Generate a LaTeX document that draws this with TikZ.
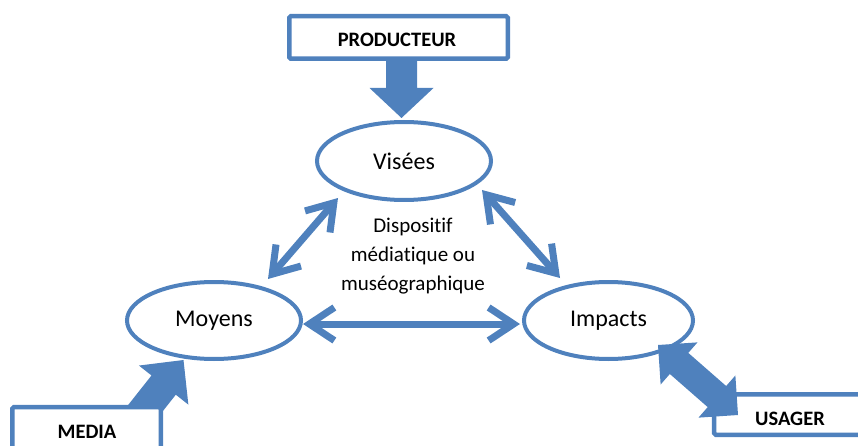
\documentclass[tikz,border=0pt]{standalone}
\usepackage{fontspec}
\setmainfont{Carlito}[Ligatures=NoCommon]
\usetikzlibrary{calc,arrows.meta,shapes.geometric}
\definecolor{acc}{RGB}{79,129,189}
\newcommand\blockarrow[5]{% #1 tail, #2 tip, #3 shaft half, #4 head half, #5 head length
  \coordinate (ba@c) at ($(#2)!#5!(#1)$);
  \fill[acc] ($(#1)!#3!90:(#2)$) -- ($(ba@c)!#3!90:(#2)$) -- ($(ba@c)!#4!90:(#2)$) -- (#2)
    -- ($(ba@c)!#4!-90:(#2)$) -- ($(ba@c)!#3!-90:(#2)$) -- ($(#1)!#3!-90:(#2)$) -- cycle;}
\newcommand\dblockarrow[5]{% #1 tip, #2 tip, #3 shaft half, #4 head half, #5 head length
  \coordinate (da@a) at ($(#1)!#5!(#2)$);
  \coordinate (da@b) at ($(#2)!#5!(#1)$);
  \fill[acc] (#1) -- ($(da@a)!#4!90:(#2)$) -- ($(da@a)!#3!90:(#2)$) -- ($(da@b)!#3!90:(#2)$)
    -- ($(da@b)!#4!90:(#2)$) -- (#2) -- ($(da@b)!#4!-90:(#2)$) -- ($(da@b)!#3!-90:(#2)$)
    -- ($(da@a)!#3!-90:(#2)$) -- ($(da@a)!#4!-90:(#2)$) -- cycle;}
\begin{document}
\begin{tikzpicture}[x=1pt,y=-1pt,
  ell/.style={ellipse, draw=acc, line width=4pt, inner sep=0pt, fill=white,
    font=\fontsize{24}{29}\selectfont},
  boxn/.style={draw=acc, line width=4.5pt, fill=white, rounded corners=1.5pt, inner sep=0pt},
  lbl/.style={inner sep=0pt, font=\fontsize{20.5}{24}\selectfont\bfseries},
  twoway/.style={draw=acc, line width=7pt, {Straight Barb[length=25pt,width=33pt]}-{Straight Barb[length=25pt,width=33pt]}}]
\useasboundingbox (0,0) rectangle (858,446);
\clip (0,0) rectangle (858,446);
% ellipses
\node[ell, minimum width=174pt, minimum height=78pt] (vis) at (404,161) {Visées};
\node[ell, minimum width=174pt, minimum height=77pt] (moy) at (214,320.5) {Moyens};
\node[ell, minimum width=169pt, minimum height=77pt] (imp) at (608.5,320.5) {Impacts};
% centre text
\node[align=center, inner sep=0pt, font=\fontsize{21}{29}\selectfont] (disp) at (413,256)
  {Dispositif\\médiatique ou\\muséographique};
% boxes
\node[boxn, minimum width=218.5pt, minimum height=42.5pt] (prod) at (398.5,37.5) {};
\node[lbl] (prodt) at (397,40) {PRODUCTEUR};
\node[boxn, minimum width=165.75pt, minimum height=40.5pt] (usa) at (797.1,414.5) {};
\node[lbl] (usat) at (790,418.5) {USAGER};
% connector end points
\coordinate (p1) at (401.5,59);
\coordinate (p2) at (401.5,118);
\coordinate (m1) at (140,415);
\coordinate (m2) at (183.5,360);
\coordinate (u1) at (658,345);
\coordinate (u2) at (738,415);
\coordinate (vm1) at (338,198);
\coordinate (vm2) at (268,279);
\coordinate (vi1) at (482,190);
\coordinate (vi2) at (560,278);
\coordinate (mi1) at (303,324);
\coordinate (mi2) at (520,324);
% block arrows
\blockarrow{p1}{p2}{15.5pt}{32pt}{30pt}
\blockarrow{m1}{m2}{15.5pt}{31.5pt}{32pt}
\dblockarrow{u1}{u2}{14pt}{28pt}{28pt}
% media box on top of its arrow
\node[boxn, minimum width=148.5pt, minimum height=62.75pt] (med) at (86.5,438.6) {};
\node[lbl] (medt) at (87,431.5) {MEDIA};
% two-way arrows
\draw[twoway] (vm1) -- (vm2);
\draw[twoway] (vi1) -- (vi2);
\draw[twoway] (mi1) -- (mi2);
\end{tikzpicture}
\end{document}
